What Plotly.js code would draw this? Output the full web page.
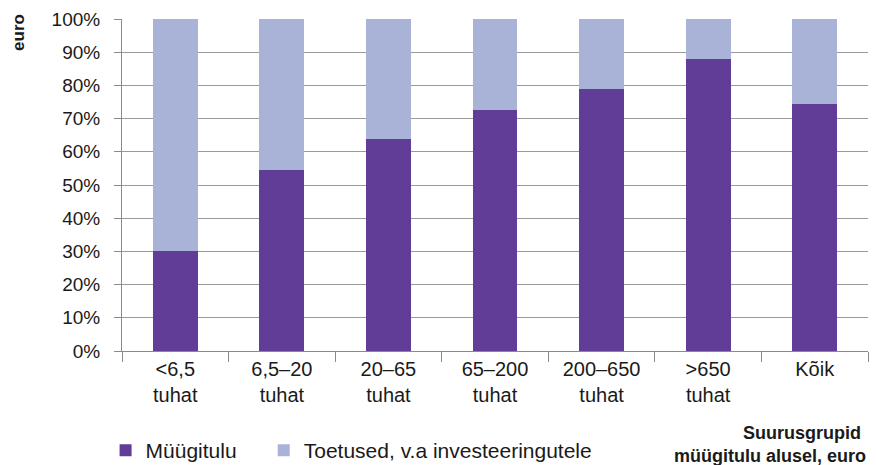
<!DOCTYPE html>
<html>
<head>
<meta charset="utf-8">
<script src="https://cdn.plot.ly/plotly-3.0.1.min.js"></script>
<style>
  html, body { margin: 0; padding: 0; background: #fff; }
  #chart { width: 876px; height: 465px; }
</style>
</head>
<body>
<div id="chart"></div>
<script>
// Size groups by sales revenue
const categories = ['<6,5<br>tuhat', '6,5–20<br>tuhat', '20–65<br>tuhat', '65–200<br>tuhat',
                    '200–650<br>tuhat', '>650<br>tuhat', 'Kõik'];
// Share of revenue from sales (%)
const salesShare = [30, 54.5, 64, 72.5, 79, 88, 74.5];
// Share of subsidies, excluding investment support (%)
const subsidyShare = salesShare.map(v => 100 - v);

const seriesNames = ['Müügitulu', 'Toetused, v.a investeeringutele'];
const colors = ['#613d98', '#a9b3d8'];
const yTicks = [0, 10, 20, 30, 40, 50, 60, 70, 80, 90, 100];

const font = 'Liberation Sans, Arial, Helvetica, sans-serif';

const traces = [
  { type: 'bar', name: seriesNames[0], x: categories, y: salesShare,
    marker: { color: colors[0] }, width: 0.42, hoverinfo: 'x+y', legend: 'legend' },
  { type: 'bar', name: seriesNames[1], x: categories, y: subsidyShare,
    marker: { color: colors[1] }, width: 0.42, hoverinfo: 'x+y', legend: 'legend2' }
];

// each series gets its own legend box so the two entries can be spaced freely
const legendBase = {
  orientation: 'h', xanchor: 'left', y: -0.30, yanchor: 'middle',
  font: { size: 21 }, itemwidth: 30, bgcolor: 'rgba(0,0,0,0)'
};

const layout = {
  width: 876, height: 465,
  margin: { l: 122, r: 8, t: 19, b: 114, autoexpand: false },
  barmode: 'stack',
  paper_bgcolor: '#fff', plot_bgcolor: '#fff',
  font: { family: font, size: 19, color: '#1a1a1a' },
  showlegend: true,
  legend: Object.assign({}, legendBase, { x: -0.022 }),
  legend2: Object.assign({}, legendBase, { x: 0.19 }),
  xaxis: {
    type: 'category', tickson: 'boundaries', ticks: 'outside', ticklen: 10,
    tickcolor: '#8a8a8a', showline: true, linecolor: '#8a8a8a', linewidth: 1,
    showgrid: false, tickfont: { size: 20 }, mirror: false
  },
  yaxis: {
    range: [0, 100], tickvals: yTicks, ticktext: yTicks.map(v => v + '%'),
    ticks: 'outside', ticklen: 7, tickcolor: '#8a8a8a',
    showline: true, linecolor: '#8a8a8a', linewidth: 1,
    showgrid: true, gridcolor: '#9a9a9a', gridwidth: 1,
    zeroline: false, tickfont: { size: 19 }, ticklabelstandoff: 10
  },
  annotations: [
    { text: '<b>euro</b>', xref: 'paper', yref: 'paper', x: -0.138, y: 1.02,
      xanchor: 'center', yanchor: 'top', textangle: -90, showarrow: false,
      font: { size: 17 } },
    { text: '<b>Suurusgrupid <br>müügitulu alusel, euro</b>', xref: 'paper', yref: 'paper',
      x: 1.0, y: -0.21, xanchor: 'right', yanchor: 'top', align: 'right',
      showarrow: false, font: { size: 18 } }
  ]
};

Plotly.newPlot('chart', traces, layout, { displayModeBar: false, staticPlot: true });
</script>
</body>
</html>
